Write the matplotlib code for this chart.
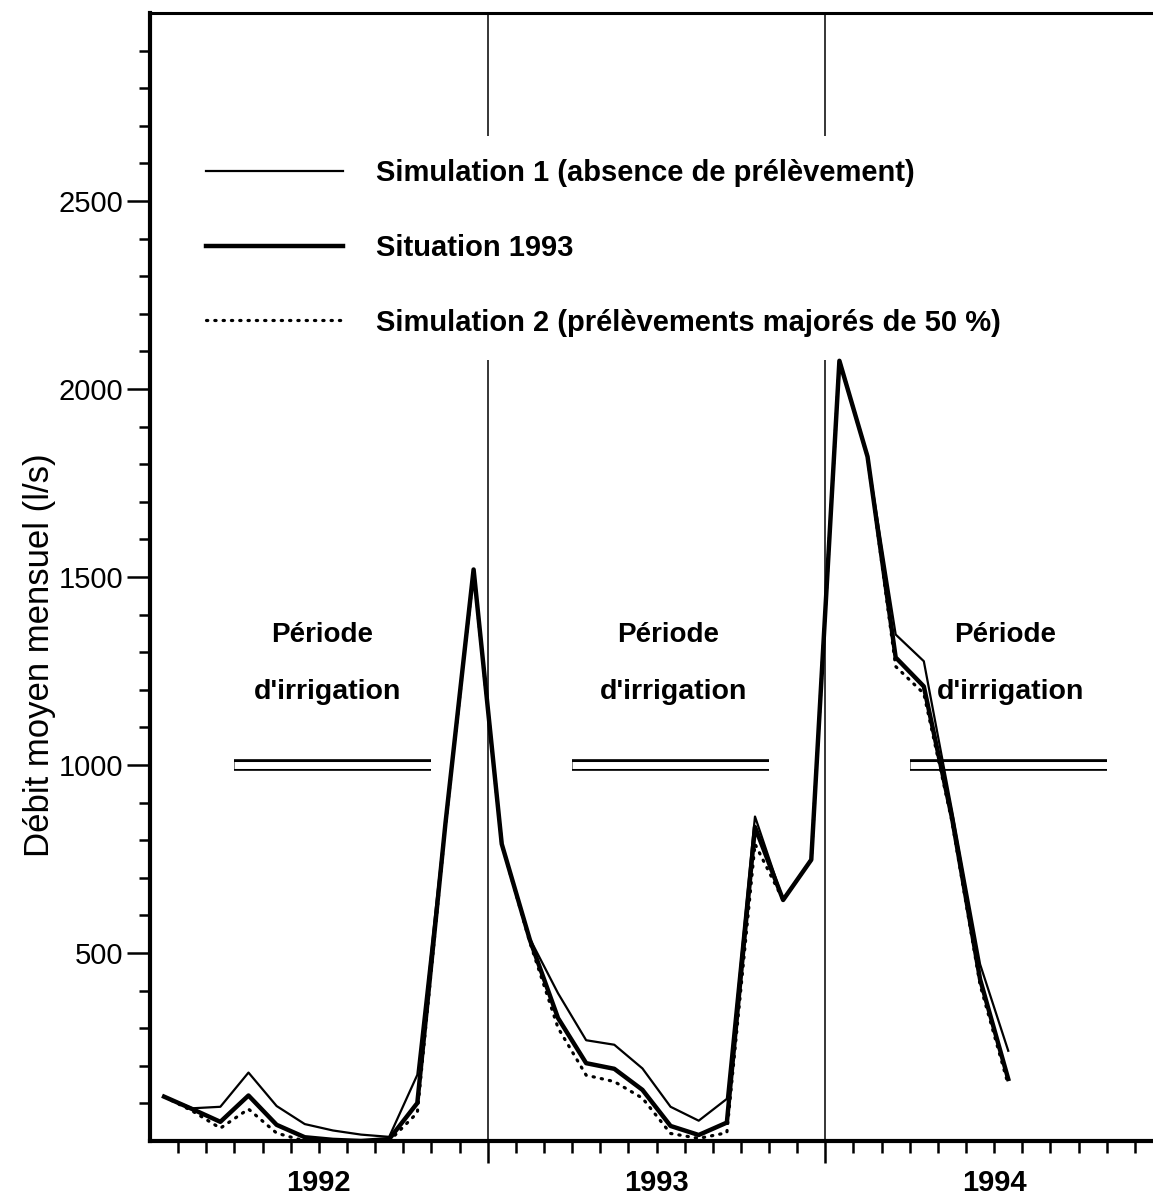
import numpy as np
import matplotlib
matplotlib.use("Agg")
import matplotlib.pyplot as plt
from matplotlib.ticker import FixedLocator, FuncFormatter

plt.rcParams['font.family'] = ['Liberation Sans', 'DejaVu Sans']

# monthly mean discharge (l/s), January 1992 to July 1994
simulation1 = [118, 87, 91, 182, 93, 45, 28, 17, 11, 176, 850, 1520,
               790, 538, 393, 268, 256, 193, 91, 54, 112, 863, 641, 748,
               2075, 1820, 1347, 1276, 880, 470, 240]
situation1993 = [118, 85, 51, 121, 43, 10, 3, 0, 5, 101, 845, 1520,
                 790, 535, 327, 207, 192, 136, 40, 16, 49, 835, 641, 748,
                 2075, 1820, 1286, 1209, 860, 430, 165]
simulation2 = [118, 80, 34, 85, 21, 0, 0, 0, 0, 75, 840, 1515,
               790, 528, 301, 175, 158, 114, 20, 7, 22, 790, 641, 748,
               2075, 1820, 1262, 1190, 850, 415, 150]

years = ["1992", "1993", "1994"]
# irrigation season, in months from January 1992 (start, end)
irrigationStart = [3, 15, 27]
irrigationEnd = [10, 22, 34]
irrigationLevel = 1000

labels = ["Simulation 1 (absence de prélèvement)",
          "Situation 1993",
          "Simulation 2 (prélèvements majorés de 50 %)"]

months = np.arange(len(situation1993)) + 0.5

fig = plt.figure(figsize=(11.53, 12.01), dpi=100)
ax = fig.add_axes([150 / 1153, 60 / 1201, 1013 / 1153, 1128 / 1201])

ax.plot(months, simulation1, color='black', lw=1.6, zorder=3, label=labels[0])
ax.plot(months, situation1993, color='black', lw=3.2, zorder=4, label=labels[1])
ax.plot(months, simulation2, color='black', lw=2.3, linestyle=(0, (0.4, 2.2)),
        dash_capstyle='round', zorder=3, label=labels[2])

# year boundaries
for i in range(1, len(years)):
    ax.axvline(12 * i, color='black', lw=1.1, zorder=1)

# irrigation periods drawn as a double rule
for start, end in zip(irrigationStart, irrigationEnd):
    ax.hlines(irrigationLevel, start, end, color='black', lw=8.4, capstyle='butt', zorder=2)
    ax.hlines(irrigationLevel, start, end, color='white', lw=5.0, capstyle='butt', zorder=2)

textX = [6.1, 18.4, 30.4]
for x in textX:
    ax.text(x, 1345, "Période", ha='center', va='center', fontsize=20, fontweight='bold')
    ax.text(x + 0.2, 1195, "d'irrigation", ha='center', va='center', fontsize=20.5,
            fontweight='bold')

ax.set_xlim(0, 36)
ax.set_ylim(0, 3000)

ax.xaxis.set_major_locator(FixedLocator([12, 24, 36]))
ax.xaxis.set_major_formatter(FuncFormatter(lambda v, p: ""))
ax.xaxis.set_minor_locator(FixedLocator(np.arange(1, 36)))
ax.xaxis.set_minor_formatter(FuncFormatter(
    lambda v, p: years[int(v) // 12] if int(v) % 12 == 6 else ""))
ax.tick_params(axis='x', which='major', direction='out', length=16, width=1.8)
ax.tick_params(axis='x', which='minor', direction='out', length=8.5, width=1.8,
               pad=12, labelsize=21)
for lab in ax.xaxis.get_minorticklabels():
    lab.set_fontweight('bold')

ax.yaxis.set_major_locator(FixedLocator([500, 1000, 1500, 2000, 2500]))
ax.yaxis.set_minor_locator(FixedLocator([v for v in range(100, 3000, 100) if v % 500]))
ax.tick_params(axis='y', which='major', direction='out', length=16.5, width=1.8,
               pad=3, labelsize=21)
ax.tick_params(axis='y', which='minor', direction='out', length=8, width=1.8)

for side in ['left', 'bottom']:
    ax.spines[side].set_linewidth(3)
ax.spines['top'].set_linewidth(2.2)
ax.spines['right'].set_visible(False)

fig.text(40 / 1153, 1 - 655 / 1201, "Débit moyen mensuel (l/s)", rotation=90,
         ha='center', va='center', fontsize=25)

# white legend box hides the year lines but stays under the data lines
leg = ax.legend(loc='upper left', bbox_to_anchor=(183 / 1153, 1 - 136 / 1201),
                bbox_transform=fig.transFigure, borderaxespad=0, borderpad=0.8,
                fontsize=21, handlelength=4.7, handletextpad=1.1,
                labelspacing=1.6, frameon=True, fancybox=False,
                facecolor='white', edgecolor='none', framealpha=1)
leg.set_zorder(2.5)
for t in leg.get_texts():
    t.set_fontweight('bold')

fig.savefig("out.png", dpi=100)
